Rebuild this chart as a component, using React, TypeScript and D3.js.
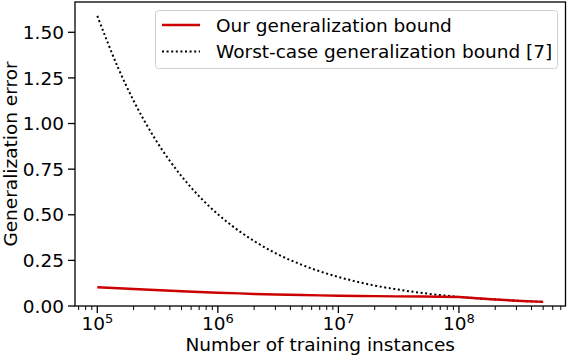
import React from 'react'
import * as d3 from 'd3'

const width = 568
const height = 358

// training-set sizes and bound values
const sizes = [1e5, 1.5e5, 2e5, 3e5, 5e5, 7e5, 1e6, 1.5e6, 2e6, 3e6, 5e6, 7e6, 1e7, 1.5e7, 2e7, 3e7, 5e7, 7e7, 1e8, 1.5e8, 2e8, 3e8, 5e8]
const worstCase = [1.59, 1.3, 1.125, 0.918, 0.711, 0.601, 0.503, 0.411, 0.356, 0.29, 0.225, 0.19, 0.159, 0.13, 0.112, 0.092, 0.071, 0.06, 0.05, 0.041, 0.036, 0.029, 0.0225]
const ourBound = [0.103, 0.097, 0.093, 0.088, 0.081, 0.077, 0.073, 0.069, 0.066, 0.063, 0.06, 0.058, 0.056, 0.055, 0.054, 0.053, 0.052, 0.051, 0.049, 0.041, 0.036, 0.029, 0.0225]

const yTicks = [0, 0.25, 0.5, 0.75, 1.0, 1.25, 1.5]
const xMajor = [5, 6, 7, 8]
const legendLabels = ['Our generalization bound', 'Worst-case generalization bound [7]']

const font = 'DejaVu Sans, sans-serif'
const fs = 18.5

const left = 75
const right = 565.5
const top = 2
const bottom = 306

export default function App() {
  const x = d3.scaleLog().domain([Math.pow(10, 4.815), Math.pow(10, 8.884)]).range([left, right])
  const y = d3.scaleLinear().domain([0, 1.666]).range([bottom, top])

  const dotted = d3.line<number>()
    .x((_, i) => x(sizes[i]))
    .y(d => y(d))
    .curve(d3.curveMonotoneX)
  const solid = d3.line<number>()
    .x((_, i) => x(sizes[i]))
    .y(d => y(d))

  const [d0, d1] = x.domain()
  const minor: number[] = []
  for (let e = 4; e <= 9; e++) {
    for (let m = 2; m <= 9; m++) {
      const v = m * Math.pow(10, e)
      if (v >= d0 && v <= d1) minor.push(v)
    }
  }

  return (
    <svg width={width} height={height} style={{ position: 'absolute', left: 0, top: 0 }} fontFamily={font}>
      <rect width={width} height={height} fill="#fff" />
      <path d={dotted(worstCase) || ''} fill="none" stroke="#000" strokeWidth={2} strokeDasharray="2,2.6" />
      <path d={solid(ourBound) || ''} fill="none" stroke="#cc0000" strokeWidth={2.4} />

      {/* axes frame */}
      <rect x={left} y={top} width={right - left} height={bottom - top} fill="none" stroke="#000" strokeWidth={1.3} />

      {/* y axis */}
      {yTicks.map(t => (
        <g key={t} transform={`translate(0,${y(t)})`}>
          <line x1={left - 7} x2={left} stroke="#000" strokeWidth={1.3} />
          <text x={left - 11} dy="0.36em" textAnchor="end" fontSize={fs}>{t.toFixed(2)}</text>
        </g>
      ))}

      {/* x axis */}
      {minor.map(v => (
        <line key={v} x1={x(v)} x2={x(v)} y1={bottom} y2={bottom + 4} stroke="#000" strokeWidth={1} />
      ))}
      {xMajor.map(e => (
        <g key={e} transform={`translate(${x(Math.pow(10, e))},0)`}>
          <line y1={bottom} y2={bottom + 7} stroke="#000" strokeWidth={1.3} />
          <text y={330} textAnchor="middle" fontSize={fs}>
            10<tspan fontSize={13} dy={-7.5}>{e}</tspan>
          </text>
        </g>
      ))}

      <text x={(left + right) / 2} y={351} textAnchor="middle" fontSize={fs}>Number of training instances</text>
      <text transform={`translate(16.5,${(top + bottom) / 2}) rotate(-90)`} textAnchor="middle" fontSize={fs}>Generalization error</text>

      {/* legend */}
      <rect x={155.5} y={10.5} width={402} height={58} rx={3} fill="#fff" stroke="#d0d0d0" strokeWidth={1} />
      <line x1={162} x2={200} y1={25} y2={25} stroke="#cc0000" strokeWidth={2.4} />
      <line x1={162} x2={200} y1={51.5} y2={51.5} stroke="#000" strokeWidth={2} strokeDasharray="2,2.6" />
      <text x={216} y={25} dy="0.36em" fontSize={fs}>{legendLabels[0]}</text>
      <text x={216} y={51.5} dy="0.36em" fontSize={fs}>{legendLabels[1]}</text>
    </svg>
  )
}
